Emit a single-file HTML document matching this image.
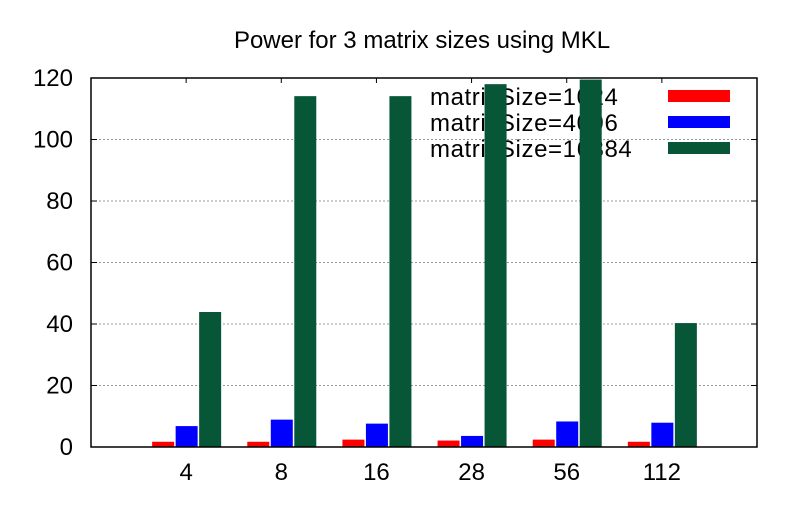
<!DOCTYPE html>
<html><head><meta charset="utf-8"><style>
html,body{margin:0;padding:0;background:#fff}
svg text{font-family:"Liberation Sans",Helvetica,sans-serif;fill:#000}
</style></head><body>
<svg id="chart" width="800" height="500" viewBox="0 0 800 500" xmlns="http://www.w3.org/2000/svg">
<rect width="800" height="500" fill="#fff"/>
<text x="422" y="48" font-size="24" text-anchor="middle">Power for 3 matrix sizes using MKL</text>
<g id="grid"></g>
<g id="legend">
<text x="430" y="105" font-size="24" letter-spacing="0.6">matrixSize=1024</text>
<rect x="668" y="90" width="62" height="12" fill="#ff0000"/>
<text x="430" y="131" font-size="24" letter-spacing="0.6">matrixSize=4096</text>
<rect x="668" y="116" width="62" height="12" fill="#0000ff"/>
<text x="430" y="157" font-size="24" letter-spacing="0.6">matrixSize=16384</text>
<rect x="668" y="142" width="62" height="12" fill="#075638"/>
</g>
<g id="bars"></g>
<g id="axes"></g>
</svg>
<script>
const categories = ["4","8","16","28","56","112"];
const seriesNames = ["matrixSize=1024","matrixSize=4096","matrixSize=16384"];
const s1024 = [1.7,1.7,2.4,2.1,2.4,1.7];
const s4096 = [6.8,8.9,7.6,3.6,8.3,7.9];
const s16384 = [43.9,114.1,114.1,118.0,119.5,40.3];
const yTicks = [0,20,40,60,80,100,120];
const colors = ["#ff0000","#0000ff","#075638"];
const NS = "http://www.w3.org/2000/svg";
const L=91,R=757,T=78,B=447;
function xScale(i){return L+(i+1)*(R-L)/(categories.length+1);}
function yScale(v){return B-(v-0)*(B-T)/120;}
function mk(tag,attrs,parent){const e=document.createElementNS(NS,tag);for(const k in attrs)e.setAttribute(k,attrs[k]);parent.appendChild(e);return e;}
const grid=document.getElementById('grid'),bars=document.getElementById('bars'),axes=document.getElementById('axes');
yTicks.forEach(t=>{
  const y=yScale(t);
  if(t>0&&t<120){const g=mk('line',{x1:L,x2:R,y1:y,y2:y,stroke:'#999','stroke-width':1,'stroke-dasharray':'2,2'},grid);
  
  }
  const tk=mk('line',{x1:L,x2:L+6,y1:y,y2:y,stroke:'#000','stroke-width':1},axes);
  
  
  const tk2=mk('line',{x1:R,x2:R-6,y1:y,y2:y,stroke:'#000','stroke-width':1},axes);
  
  
  const lb=mk('text',{x:L-18,y:y+8,'font-size':24,'text-anchor':'end'},axes);
  lb.textContent=t;
  
  
});
const series=[s1024,s4096,s16384];
const bw=22, offs=[-23.5,0,23.5];
categories.forEach((c,i)=>{
  const cx=xScale(i);
  series.forEach((s,k)=>{
    const y=yScale(s[i]);
    const r=mk('rect',{x:cx+offs[k]-bw/2+0.5,y:y,width:bw,height:B-y,fill:colors[k]},bars);
    
    
  });
  const tk=mk('line',{x1:cx,x2:cx,y1:T,y2:T+5,stroke:'#000','stroke-width':1},axes);
  
  
  const lb=mk('text',{x:cx,y:B+33,'font-size':24,'text-anchor':'middle'},axes);
  lb.textContent=c;
  
  
});
const frame=mk('rect',{x:L,y:T,width:R-L,height:B-T,fill:'none',stroke:'#000','stroke-width':1.5},axes);


</script>
</body></html>
